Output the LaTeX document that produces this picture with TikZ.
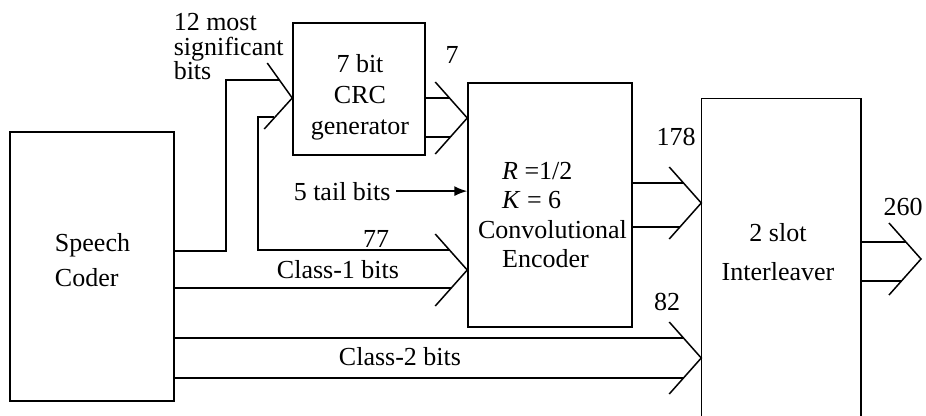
\documentclass[tikz,border=0pt]{standalone}
\usepackage{fontspec}
\setmainfont{Liberation Serif}
\usetikzlibrary{calc,arrows.meta}
\newcommand\buschev[1]{\draw ($(#1)+(-32,-36)$) -- (#1) -- ($(#1)+(-32,36)$);}
\begin{document}
\begin{tikzpicture}[x=1pt,y=-1pt,line width=1.5pt,
  blk/.style={draw,inner sep=0pt},
  txt/.style={inner sep=0pt,font=\fontsize{26}{31}\selectfont},
  tailarrow/.style={-{Latex[length=13pt,width=10pt]}}]
\useasboundingbox (0,0) rectangle (926,415);
\clip (0,0) rectangle (926,415);
% blocks
\node[blk,minimum width=164pt,minimum height=269pt] (sc) at (92,266.5) {};
\node[blk,minimum width=132pt,minimum height=132pt] (crc) at (359,89) {};
\node[blk,minimum width=164pt,minimum height=244pt] (conv) at (550,205) {};
\node[inner sep=0pt,minimum width=158pt,minimum height=316pt] (il) at (781,257) {};
\draw (il.south west) -- (il.north west) -- (il.north east) -- (il.south east);
% block texts
\node[txt,align=left,font=\fontsize{26}{35}\selectfont] (sct) at (92.5,260.5) {Speech\\Coder};
\node[txt,align=center] (crct) at (360,97) {7 bit\\CRC\\generator};
\node[txt,align=left,font=\fontsize{26}{29.5}\selectfont] (convt) at (552.5,215)
  {\hspace*{24pt}\textit{R} =1/2\\\hspace*{24pt}\textit{K} = 6\\Convolutional\\\hspace*{24pt}Encoder};
\node[txt,align=center,font=\fontsize{26}{39}\selectfont] (ilt) at (778,252.5) {2 slot\\Interleaver};
% labels
\node[txt,align=left,font=\fontsize{26}{24.5}\selectfont,anchor=north west] (msb) at (173,13) {12 most\\significant\\bits};
\node[txt,anchor=base] (n7) at (452,63) {7};
\node[txt,anchor=base west] (tb) at (293,200) {5 tail bits};
\node[txt,anchor=base] (n178) at (676,145) {178};
\node[txt,anchor=base] (n77) at (376,247) {77};
\node[txt,anchor=base] (c1) at (338,278) {Class-1 bits};
\node[txt,anchor=base] (n82) at (667,310) {82};
\node[txt,anchor=base] (c2) at (400,365) {Class-2 bits};
\node[txt,anchor=base] (n260) at (903,215) {260};
% chevron tips
\coordinate (tA) at (crc.west |- 0,98);
\coordinate (tB) at (conv.west |- 0,118);
\coordinate (tD) at (conv.west |- 0,270);
\coordinate (tE) at (il.west |- 0,203);
\coordinate (tF) at (il.west |- 0,358);
\coordinate (tG) at (921,259);
% speech coder -> CRC (12 most significant bits)
\draw (sc.east |- 0,251) -| (226,80) -- ($(tA)+(-13,-18)$);
\draw ($(tA)+(-25,-35)$) -- (tA) -- ($(tA)+(-28,31)$);
% CRC input loop -> encoder (77)
\draw ($(tA)+(-18,19)$) -- (258,117) -- (258,250) -- ($(tD)+(-17.8,-20)$);
% class-1 bits
\draw (sc.east |- 0,288) -- ($(tD)+(-16,18)$);
\buschev{tD}
% CRC -> encoder (7)
\draw (crc.east |- 0,98) -- ($(tB)+(-17.8,-20)$);
\draw (crc.east |- 0,137) -- ($(tB)+(-16.9,19)$);
\buschev{tB}
% 5 tail bits
\draw[tailarrow] ([xshift=5pt]tb.east) -- (tb.east -| conv.west);
% encoder -> interleaver (178)
\draw (conv.east |- 0,183) -- ($(tE)+(-17.8,-20)$);
\draw (conv.east |- 0,227) -- ($(tE)+(-21.3,24)$);
\buschev{tE}
% class-2 bits (82)
\draw (sc.east |- 0,338) -- ($(tF)+(-17.8,-20)$);
\draw (sc.east |- 0,378) -- ($(tF)+(-17.8,20)$);
\buschev{tF}
% output (260)
\draw (il.east |- 0,242) -- ($(tG)+(-15.1,-17)$);
\draw (il.east |- 0,281) -- ($(tG)+(-19.6,22)$);
\buschev{tG}
\end{tikzpicture}
\end{document}
